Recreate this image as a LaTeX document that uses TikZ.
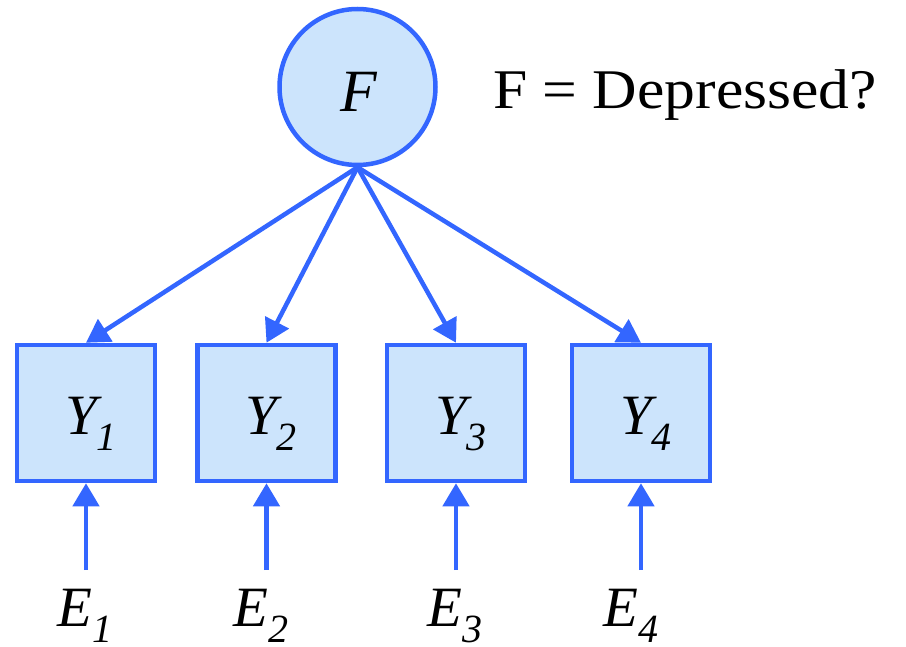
\documentclass[tikz,border=0pt]{standalone}
\usepackage{fontspec}
\setmainfont{Liberation Serif}
\usetikzlibrary{arrows.meta}
\definecolor{edge}{HTML}{3366FF}
\definecolor{fillb}{HTML}{CCE4FC}
\newcommand{\semlab}[2]{{\fontsize{57}{57}\selectfont\itshape #1}\raisebox{-16pt}{\fontsize{40}{40}\selectfont\itshape #2}}
\tikzset{
  latent/.style={circle, draw=edge, fill=fillb, line width=4.5pt, minimum size=156pt, inner sep=0pt},
  observed/.style={rectangle, draw=edge, fill=fillb, line width=4.5pt, minimum width=138pt, minimum height=136pt, inner sep=0pt},
  lbl/.style={anchor=base west, inner sep=0pt},
  path/.style={draw=edge, line width=4.5pt, -{Triangle[length=23pt,width=26pt]}}
}
\begin{document}
\begin{tikzpicture}[x=1pt,y=-1pt]
\useasboundingbox (0,0) rectangle (906,647);
\node[latent] (F) at (357.5,87) {};
\node[anchor=base, inner sep=0pt] (Fl) at (359,112) {\fontsize{60}{60}\selectfont\itshape F};
\node[anchor=base, inner sep=0pt] (T) at (685,109) {\scalebox{1.1}[1]{\fontsize{56}{56}\selectfont F = Depressed?}};

\node[observed] (Y1) at (86,413) {};
\node[observed] (Y2) at (266.5,413) {};
\node[observed] (Y3) at (456,413) {};
\node[observed] (Y4) at (641,413) {};

\node[lbl] (Y1l) at (65,435) {\semlab{Y}{1}};
\node[lbl] (Y2l) at (245,435) {\semlab{Y}{2}};
\node[lbl] (Y3l) at (435,435) {\semlab{Y}{3}};
\node[lbl] (Y4l) at (620,435) {\semlab{Y}{4}};

\foreach \i in {1,2,3,4} {
  \draw[path] (F.south) -- (Y\i.north);
}

\coordinate (e1) at (86,570);
\coordinate (e2) at (266.5,570);
\coordinate (e3) at (456,570);
\coordinate (e4) at (641,570);
\foreach \i in {1,2,3,4} {
  \draw[path] (e\i) -- (Y\i.south);
}

\node[lbl] (E1) at (57,626) {\semlab{E}{1}};
\node[lbl] (E2) at (233,626) {\semlab{E}{2}};
\node[lbl] (E3) at (427,626) {\semlab{E}{3}};
\node[lbl] (E4) at (603,626) {\semlab{E}{4}};
\end{tikzpicture}
\end{document}
